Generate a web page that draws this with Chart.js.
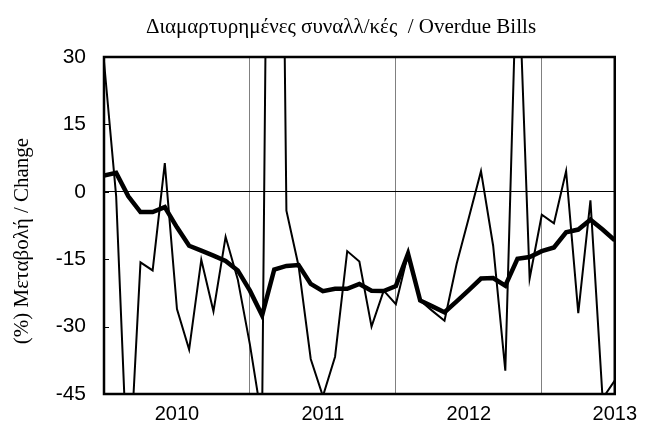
<!DOCTYPE html>
<html>
<head>
<meta charset="utf-8">
<script src="https://cdn.jsdelivr.net/npm/chart.js@4/dist/chart.umd.min.js"></script>
<style>
  html, body { margin: 0; padding: 0; background: #ffffff; }
  #wrap { width: 645px; height: 428px; }
</style>
</head>
<body>
<div id="wrap"><canvas id="c" width="645" height="428"></canvas></div>
<script>
// Months (categories)
const months = [
  '2009-07','2009-08','2009-09','2009-10','2009-11','2009-12',
  '2010-01','2010-02','2010-03','2010-04','2010-05','2010-06',
  '2010-07','2010-08','2010-09','2010-10','2010-11','2010-12',
  '2011-01','2011-02','2011-03','2011-04','2011-05','2011-06',
  '2011-07','2011-08','2011-09','2011-10','2011-11','2011-12',
  '2012-01','2012-02','2012-03','2012-04','2012-05','2012-06',
  '2012-07','2012-08','2012-09','2012-10','2012-11','2012-12',
  '2013-01'
];
// Monthly annual change (%) - thin line
const monthlyChange = [
  29, -1, -67, -15.7, -17.5, 6.4,
  -26.1, -35.1, -15.1, -26.6, -10, -19.5,
  -34, -51, 245, -4.2, -16.5, -37.2,
  -45.5, -36.7, -13.2, -15.5, -30, -22,
  -25, -13.8, -24.2, -26.5, -28.7, -16,
  -5.8, 4.6, -12, -39.8, 56, -19.3,
  -5.1, -7, 4.6, -27, -1.9, -46,
  -42
];
// 12-month moving average (%) - thick line
const movingAverage = [
  3.6, 4.2, -1.0, -4.5, -4.5, -3.4,
  -7.9, -12, -13.1, -14.2, -15.4, -17.5,
  -22, -27.5, -17.3, -16.5, -16.3, -20.5,
  -22.1, -21.6, -21.6, -20.5, -22, -22.1,
  -21, -13.8, -24.2, -25.5, -26.8, -24.4,
  -21.9, -19.3, -19.2, -20.9, -14.9, -14.5,
  -13.2, -12.4, -9, -8.4, -6.2, -8.4,
  -10.8
];
const yTicks = [-45, -30, -15, 0, 15, 30];
const titleText = 'Διαμαρτυρημένες συναλλ/κές  / Overdue Bills';
const yTitleText = '(%) Μεταβολή / Change';

const decorPlugin = {
  id: 'decor',
  beforeDatasetsDraw(chart) {
    const ctx = chart.ctx, a = chart.chartArea, ys = chart.scales.y;
    ctx.save();
    ctx.strokeStyle = '#000';
    ctx.lineWidth = 1;
    yTicks.forEach(v => {
      const py = Math.round(ys.getPixelForValue(v)) + 0.5;
      ctx.beginPath();
      ctx.moveTo(a.left, py);
      ctx.lineTo(a.left + 5, py);
      ctx.stroke();
    });
    ctx.restore();
  },
  afterDatasetsDraw(chart) {
    const ctx = chart.ctx, a = chart.chartArea;
    ctx.save();
    ctx.strokeStyle = '#000';
    ctx.lineWidth = 2.5;
    ctx.strokeRect(a.left, a.top, a.right - a.left, a.bottom - a.top);
    ctx.restore();
  },
  afterDraw(chart) {
    const ctx = chart.ctx;
    ctx.save();
    ctx.fillStyle = '#000';
    ctx.font = "21px 'Liberation Serif'";
    ctx.textAlign = 'center';
    ctx.textBaseline = 'middle';
    ctx.fillText(titleText, 341, 27);
    ctx.translate(22, 241);
    ctx.rotate(-Math.PI / 2);
    ctx.fillText(yTitleText, 0, 0);
    ctx.restore();
  }
};

new Chart(document.getElementById('c'), {
  type: 'line',
  data: {
    labels: months,
    datasets: [
      {
        label: '12-month average',
        data: movingAverage,
        borderColor: '#000',
        borderWidth: 4.5,
        pointRadius: 0,
        tension: 0,
        fill: false,
        clip: 0
      },
      {
        label: 'Monthly change',
        data: monthlyChange,
        borderColor: '#000',
        borderWidth: 2,
        pointRadius: 0,
        tension: 0,
        fill: false,
        clip: 0
      }
    ]
  },
  options: {
    responsive: false,
    animation: false,
    devicePixelRatio: 1,
    layout: { padding: { left: 0, top: 57, right: 22, bottom: 0 } },
    plugins: { legend: { display: false }, title: { display: false }, tooltip: { enabled: false } },
    scales: {
      x: {
        type: 'category',
        offset: false,
        afterFit(scale) { scale.height = 34; },
        border: { display: false },
        grid: {
          drawTicks: false,
          lineWidth: 1,
          color(ctx) {
            const m = months[ctx.index];
            return (ctx.index > 0 && m && m.endsWith('-07')) ? '#808080' : 'rgba(0,0,0,0)';
          }
        },
        ticks: {
          autoSkip: false,
          maxRotation: 0,
          minRotation: 0,
          padding: 8,
          color: '#000',
          font: { family: "'Liberation Sans', Arial, sans-serif", size: 20 },
          callback(value, index) {
            const m = months[index];
            return m.endsWith('-01') ? m.slice(0, 4) : '';
          }
        }
      },
      y: {
        min: -45,
        max: 30,
        afterFit(scale) { scale.width = 104; },
        afterBuildTicks(scale) { scale.ticks = yTicks.map(v => ({ value: v })); },
        border: { display: false },
        grid: {
          drawTicks: false,
          lineWidth: 1,
          color(ctx) { return ctx.tick && ctx.tick.value === 0 ? '#000' : 'rgba(0,0,0,0)'; }
        },
        ticks: {
          padding: 18,
          color: '#000',
          font: { family: "'Liberation Sans', Arial, sans-serif", size: 21 }
        }
      }
    }
  },
  plugins: [decorPlugin]
});
</script>
</body>
</html>
